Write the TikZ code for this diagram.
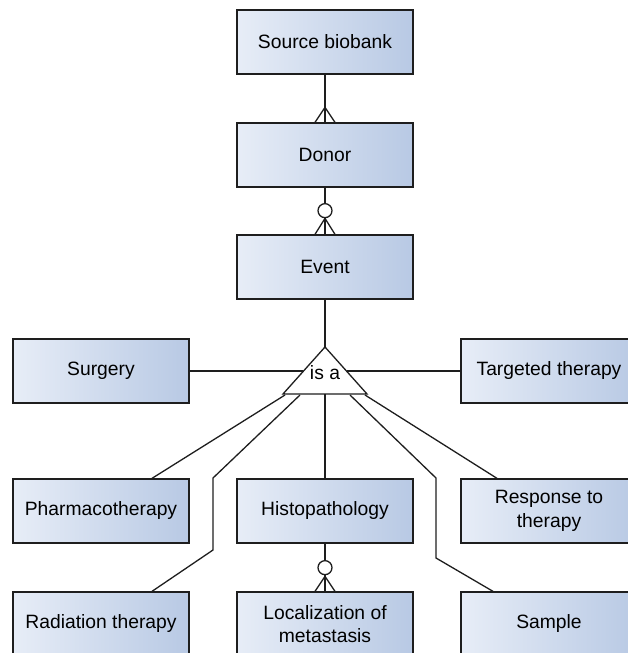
\documentclass[tikz,border=0pt]{standalone}
\usepackage{fontspec}
\setmainfont{Liberation Sans}
\usetikzlibrary{calc}
\definecolor{boxleft}{RGB}{231,237,247}
\definecolor{boxright}{RGB}{184,201,228}
\definecolor{edge}{RGB}{30,30,30}
\tikzset{
  entity/.style={draw=edge, line width=1.3pt, rectangle,
    left color=boxleft, right color=boxright, shading angle=90,
    minimum width=176pt, minimum height=64pt, inner sep=2pt,
    align=center, font=\fontsize{19.3}{23.5}\selectfont},
  link/.style={draw=edge, line width=1.3pt},
}
\begin{document}
\begin{tikzpicture}[x=1pt, y=-1pt]
\useasboundingbox (0,0) rectangle (627,653);

% entities
\node[entity] (src)       at (325,42)  {Source biobank};
\node[entity] (donor)     at (325,155) {Donor};
\node[entity] (event)     at (325,267) {Event};
\node[entity] (surgery)   at (101,371) {Surgery};
\node[entity] (targeted)  at (549,371) {Targeted therapy};
\node[entity] (pharma)    at (101,511) {Pharmacotherapy};
\node[entity] (histo)     at (325,511) {Histopathology};
\node[entity] (response)  at (549,511) {Response to\\therapy};
\node[entity] (radiation) at (101,624) {Radiation therapy};
\node[entity] (local)     at (325,624) {Localization of\\metastasis};
\node[entity] (sample)    at (549,624) {Sample};

% "is a" generalisation triangle
\coordinate (apex) at (325,347);
\coordinate (bl) at (283,394);
\coordinate (br) at (367,394);
\coordinate (tl) at (302.7,371);
\coordinate (tr) at (347.3,371);
\draw[link, fill=white, line join=miter] (apex) -- (bl) -- (br) -- cycle;
\node[font=\fontsize{19.3}{23}\selectfont, inner sep=0pt] (isa) at (325,373) {is a};

% Source biobank -- Donor (one to many)
\draw[link] (src.south) -- (donor.north);
\draw[link] ($(donor.north)+(-10,0)$) -- ($(donor.north)+(0,-15)$) -- ($(donor.north)+(10,0)$);

% Donor -- Event (zero or many)
\draw[link] (donor.south) -- (event.north);
\draw[link, fill=white] ($(donor.south)+(0,23)$) circle[radius=7];
\draw[link] ($(event.north)+(-10,0)$) -- ($(event.north)+(0,-16)$) -- ($(event.north)+(10,0)$);

% Histopathology -- Localization of metastasis (zero or many)
\draw[link] (histo.south) -- (local.north);
\draw[link, fill=white] ($(histo.south)+(0,24)$) circle[radius=7];
\draw[link] ($(local.north)+(-10,0)$) -- ($(local.north)+(0,-15)$) -- ($(local.north)+(10,0)$);

% Event to the triangle, and the subtypes
\draw[link] (event.south) -- (apex);
\draw[link] (surgery.east) -- (tl);
\draw[link] (tr) -- (targeted.west);
\draw[link] (285,395) -- ($(pharma.north)+(51,0)$);
\draw[link] (300,395) -- (213,478) -- (213,550) -- ($(radiation.north)+(51,0)$);
\draw[link] (325,394) -- (histo.north);
\draw[link] (350,395) -- (436,478) -- (436,558) -- ($(sample.north)+(-56,0)$);
\draw[link] (365,395) -- ($(response.north)+(-52,0)$);
\end{tikzpicture}
\end{document}
